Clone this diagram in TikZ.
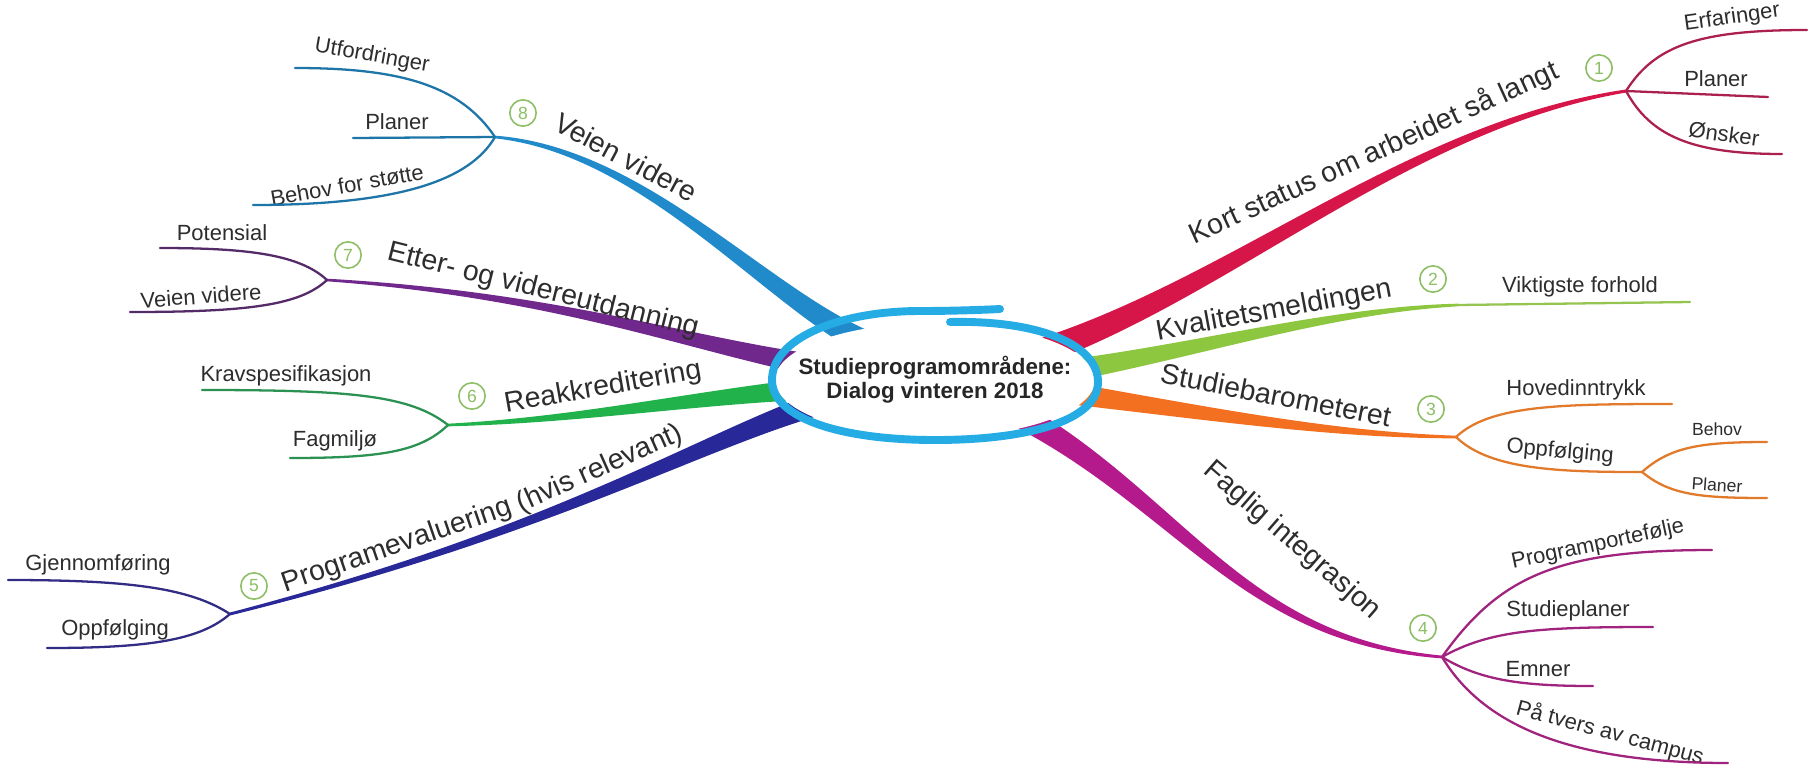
\documentclass[tikz,border=0pt]{standalone}
\usepackage{fontspec}
\setmainfont{Liberation Sans}
\usetikzlibrary{calc}

\definecolor{txt}{RGB}{45,45,45}
\definecolor{ringblue}{RGB}{38,172,228}
\definecolor{numgreen}{RGB}{140,190,100}
\definecolor{redbr}{RGB}{214,22,72}
\definecolor{redleaf}{RGB}{172,32,78}
\definecolor{ygbr}{RGB}{141,198,63}
\definecolor{ygleaf}{RGB}{150,196,80}
\definecolor{orbr}{RGB}{243,112,33}
\definecolor{orleaf}{RGB}{226,122,44}
\definecolor{mgbr}{RGB}{180,26,140}
\definecolor{mgleaf}{RGB}{160,36,126}
\definecolor{dbbr}{RGB}{40,40,152}
\definecolor{dbleaf}{RGB}{50,44,132}
\definecolor{grbr}{RGB}{34,178,76}
\definecolor{grleaf}{RGB}{44,146,84}
\definecolor{pubr}{RGB}{112,40,140}
\definecolor{puleaf}{RGB}{84,42,104}
\definecolor{blbr}{RGB}{32,138,202}
\definecolor{blleaf}{RGB}{30,118,168}

% tapering branch: colour, start, control 1, control 2, end, half width (dx,dy)
\newcommand\branch[7]{%
  \fill[#1] ($(#2)+(#6,#7)$)
    .. controls ($(#3)+(0.6*#6,0.6*#7)$) and ($(#4)+(0.3*#6,0.3*#7)$)
    .. ($(#5)+(0.12*#6,0.12*#7)$)
    -- ($(#5)-(0.12*#6,0.12*#7)$)
    .. controls ($(#4)-(0.3*#6,0.3*#7)$) and ($(#3)-(0.6*#6,0.6*#7)$)
    .. ($(#2)-(#6,#7)$) -- cycle;}

\begin{document}
\begin{tikzpicture}[
                x = 0.2mm, y = -0.2mm,
                main/.style={ text = txt, inner sep = 1pt, font = \fontsize{16.2}{19}\selectfont },
                leaf/.style={ text = txt, inner sep = 1pt, font = \fontsize{12.5}{15}\selectfont },
                small/.style={ text = txt, inner sep = 1pt, font = \fontsize{10}{12}\selectfont },
                num/.style={ circle, draw = numgreen, line width = 0.9pt, text = numgreen,
                             minimum size = 15pt, inner sep = 0pt, font = \fontsize{10}{12}\selectfont },
                twig/.style={ line width = 1.3pt, line cap = round },
                ring/.style={ draw = ringblue, line width = 4.5pt, line cap = round }
            ]
            \fill[white] (0,0) rectangle (1814,767);
            \useasboundingbox (0,0) rectangle (1814,767);

            \coordinate (s1) at (1040,352); \coordinate (j1) at (1626,91);
            \coordinate (s2) at (1060,372); \coordinate (j2) at (1458,305);
            \coordinate (s3) at (1060,392); \coordinate (j3) at (1456,437);
            \coordinate (s4) at (1010,410); \coordinate (j4) at (1442,657);
            \coordinate (s5) at (830,400);  \coordinate (j5) at (230,614);
            \coordinate (s6) at (820,388);  \coordinate (j6) at (448,425);
            \coordinate (s7) at (820,366);  \coordinate (j7) at (327,280);
            \coordinate (s8) at (860,340);  \coordinate (j8) at (495,137);

            \branch{redbr}{s1}{1235,285}{1410,125}{j1}{5}{12}
            \branch{ygbr}{s2}{1200,350}{1330,310}{j2}{2}{11}
            \branch{orbr}{s3}{1200,412}{1330,435}{j3}{-1.5}{11}
            \branch{mgbr}{s4}{1180,500}{1240,640}{j4}{-6}{11}
            \branch{dbbr}{s5}{700,440}{560,530}{j5}{3.3}{11.5}
            \branch{grbr}{s6}{690,398}{580,420}{j6}{1}{11}
            \branch{pubr}{s7}{690,345}{560,295}{j7}{-2.6}{10.7}
            \branch{blbr}{s8}{760,290}{640,150}{j8}{5.4}{-10.7}

            % centre
            \fill[white] (935,380) ellipse [x radius = 32mm, y radius = 11.4mm];
            \draw[ring] (950,322) .. controls (1040,320) and (1098,345) .. (1098,382)
                .. controls (1098,420) and (1030,440) .. (935,440)
                .. controls (840,440) and (772,418) .. (772,380)
                .. controls (772,338) and (840,311) .. (920,311)
                .. controls (950,311) and (980,310) .. (1000,309);
            \node (hub) [text = black!85, align = center, font = \bfseries\fontsize{12.7}{13.7}\selectfont]
                at (935,380) {Studieprogramområdene:\\Dialog vinteren 2018};

            % 1
            \node (t1) [main, rotate=24.5] at (1374,153) {Kort status om arbeidet så langt};
            \node (n1) [num] at (1599,68) {1};
            \coordinate (e1a) at (1807,30);
            \coordinate (e1b) at (1768,97);
            \coordinate (e1c) at (1782,154);
            \node (l1a) [leaf, rotate=8]  at (1732,18)  {Erfaringer};
            \node (l1b) [leaf]            at (1716,79)  {Planer};
            \node (l1c) [leaf, rotate=-8] at (1724,134) {Ønsker};
            \draw [twig, redleaf] (j1) .. controls (1655,45) and (1700,30) .. (e1a);
            \draw [twig, redleaf] (j1) -- (e1b);
            \draw [twig, redleaf] (j1) .. controls (1650,135) and (1690,154) .. (e1c);

            % 2
            \node (t2) [main, rotate=10.5] at (1274,311) {Kvalitetsmeldingen};
            \node (n2) [num] at (1433,279) {2};
            \coordinate (e2a) at (1690,302);
            \node (l2a) [leaf] at (1580,287) {Viktigste forhold};
            \draw [twig, ygleaf] (j2) -- (e2a);

            % 3
            \node (t3) [main, rotate=-11] at (1276,395) {Studiebarometeret};
            \node (n3) [num] at (1431,409) {3};
            \coordinate (e3a) at (1672,404);
            \coordinate (j3b) at (1642,472);
            \coordinate (e3c) at (1767,442);
            \coordinate (e3d) at (1767,498);
            \node (l3a) [leaf]            at (1576,390) {Hovedinntrykk};
            \node (l3b) [leaf, rotate=-5] at (1560,452) {Oppfølging};
            \node (l3c) [small]           at (1717,429) {Behov};
            \node (l3d) [small, rotate=-4] at (1717,485) {Planer};
            \draw [twig, orleaf] (j3) .. controls (1490,405) and (1560,404) .. (e3a);
            \draw [twig, orleaf] (j3) .. controls (1490,470) and (1560,472) .. (j3b);
            \draw [twig, orleaf] (j3b) .. controls (1670,447) and (1700,442) .. (e3c);
            \draw [twig, orleaf] (j3b) .. controls (1670,495) and (1700,498) .. (e3d);

            % 4
            \node (t4) [main, rotate=-41] at (1292,541) {Faglig integrasjon};
            \node (n4) [num] at (1423,628) {4};
            \coordinate (e4a) at (1712,550);
            \coordinate (e4b) at (1653,627);
            \coordinate (e4c) at (1593,686);
            \coordinate (e4d) at (1728,763);
            \node (l4a) [leaf, rotate=12]  at (1598,545) {Programportefølje};
            \node (l4b) [leaf]             at (1568,611) {Studieplaner};
            \node (l4c) [leaf]             at (1538,669) {Emner};
            \node (l4d) [leaf, rotate=-15] at (1610,733) {På tvers av campus};
            \draw [twig, mgleaf] (j4) .. controls (1500,575) and (1560,550) .. (e4a);
            \draw [twig, mgleaf] (j4) .. controls (1490,630) and (1540,627) .. (e4b);
            \draw [twig, mgleaf] (j4) .. controls (1480,680) and (1520,686) .. (e4c);
            \draw [twig, mgleaf] (j4) .. controls (1480,720) and (1560,763) .. (e4d);

            % 5
            \node (t5a) [main, rotate=19] at (397,546) {Programevaluering};
            \node (t5b) [main, rotate=24] at (600,469) {(hvis relevant)};
            \node (n5) [num] at (254,586) {5};
            \coordinate (e5a) at (8,580);
            \coordinate (e5b) at (47,648);
            \node (l5a) [leaf] at (98,565)  {Gjennomføring};
            \node (l5b) [leaf] at (115,630) {Oppfølging};
            \draw [twig, dbleaf] (j5) .. controls (190,588) and (130,580) .. (e5a);
            \draw [twig, dbleaf] (j5) .. controls (200,640) and (150,648) .. (e5b);

            % 6
            \node (t6) [main, rotate=10] at (603,388) {Reakkreditering};
            \node (n6) [num] at (472,396) {6};
            \coordinate (e6a) at (202,390);
            \coordinate (e6b) at (290,458);
            \node (l6a) [leaf] at (286,376) {Kravspesifikasjon};
            \node (l6b) [leaf] at (335,441) {Fagmiljø};
            \draw [twig, grleaf] (j6) .. controls (410,395) and (350,390) .. (e6a);
            \draw [twig, grleaf] (j6) .. controls (420,452) and (380,458) .. (e6b);

            % 7
            \node (t7) [main, rotate=-14] at (543,291) {Etter- og videreutdanning};
            \node (n7) [num] at (348,255) {7};
            \coordinate (e7a) at (160,248);
            \coordinate (e7b) at (130,312);
            \node (l7a) [leaf]           at (222,233) {Potensial};
            \node (l7b) [leaf, rotate=4] at (201,296) {Veien videre};
            \draw [twig, puleaf] (j7) .. controls (300,255) and (250,248) .. (e7a);
            \draw [twig, puleaf] (j7) .. controls (300,305) and (250,312) .. (e7b);

            % 8
            \node (t8) [main, rotate=-28] at (626,157) {Veien videre};
            \node (n8) [num] at (523,113) {8};
            \coordinate (e8a) at (295,68);
            \coordinate (e8b) at (353,138);
            \coordinate (e8c) at (253,205);
            \node (l8a) [leaf, rotate=-10] at (372,56)  {Utfordringer};
            \node (l8b) [leaf]             at (397,122) {Planer};
            \node (l8c) [leaf, rotate=10]  at (347,185) {Behov for støtte};
            \draw [twig, blleaf] (j8) .. controls (460,85) and (400,68) .. (e8a);
            \draw [twig, blleaf] (j8) -- (e8b);
            \draw [twig, blleaf] (j8) .. controls (470,180) and (400,205) .. (e8c);
        \end{tikzpicture}
\end{document}
